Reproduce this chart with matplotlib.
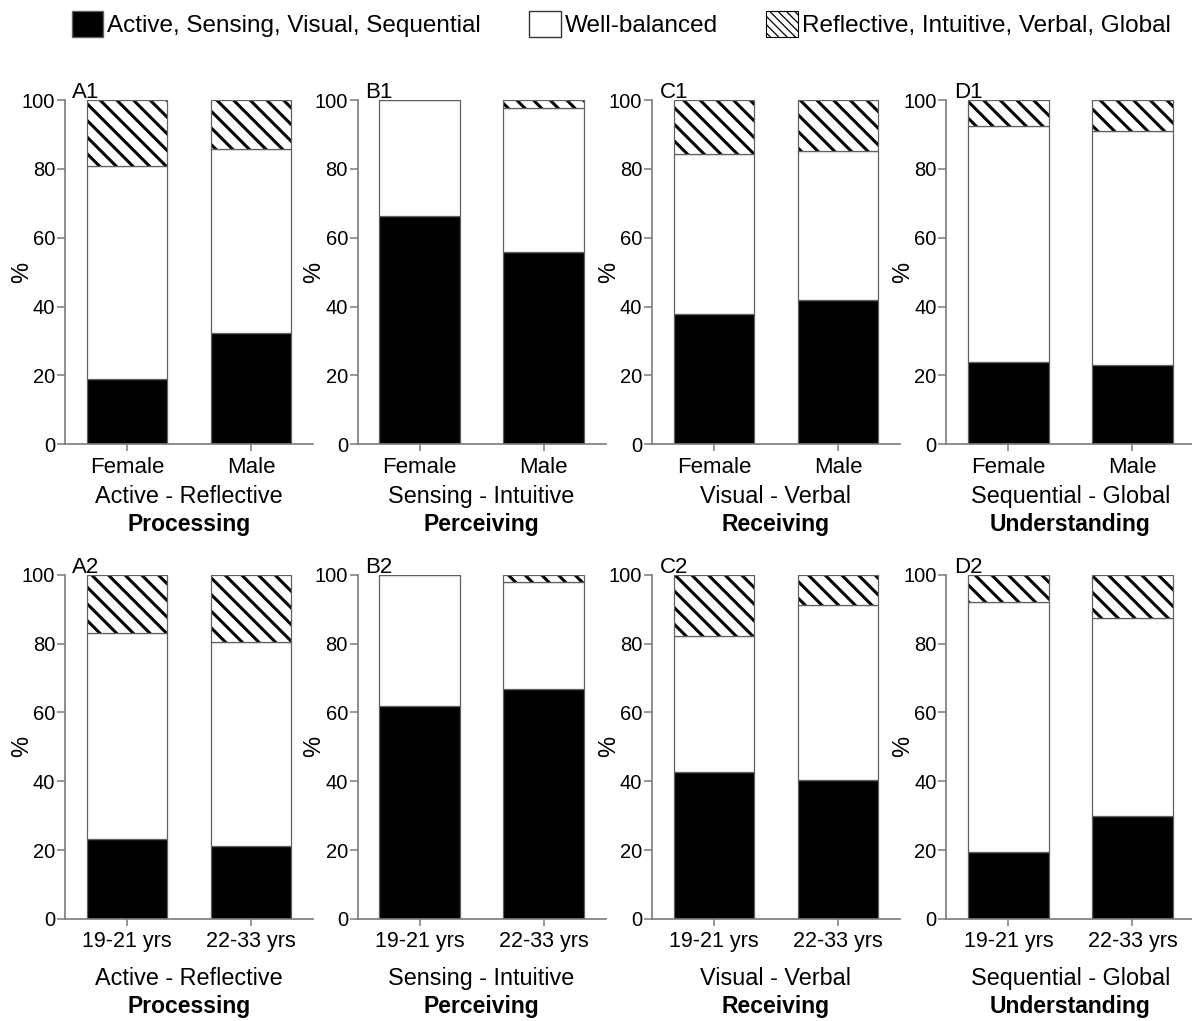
import numpy as np
import matplotlib.pyplot as plt
import matplotlib.patches as mpatches
from matplotlib.transforms import blended_transform_factory

plt.rcParams['font.family'] = ['Liberation Sans', 'DejaVu Sans']
plt.rcParams['hatch.linewidth'] = 2.2

# learning style dimensions (one column of panels each)
dims = ['Active - Reflective', 'Sensing - Intuitive', 'Visual - Verbal', 'Sequential - Global']
groups = ['Processing', 'Perceiving', 'Receiving', 'Understanding']
letters = ['A', 'B', 'C', 'D']

sex_labels = ['Female', 'Male']
age_labels = ['19-21 yrs', '22-33 yrs']

# % of students: first pole (black), well-balanced (white), second pole (hatched)
sex_pole1 = [[18.8, 32.4], [66.3, 55.8], [37.9, 41.8], [23.9, 23.0]]
sex_bal = [[62.1, 53.3], [33.7, 41.8], [46.4, 43.4], [68.7, 67.9]]
sex_pole2 = [[19.1, 14.3], [0.0, 2.4], [15.7, 14.8], [7.4, 9.1]]

age_pole1 = [[23.2, 21.1], [62.0, 66.8], [42.6, 40.3], [19.4, 29.9]]
age_bal = [[59.9, 59.5], [38.0, 31.1], [39.7, 50.8], [72.8, 57.6]]
age_pole2 = [[16.9, 19.4], [0.0, 2.1], [17.7, 8.9], [7.8, 12.5]]

legend_labels = ['Active, Sensing, Visual, Sequential', 'Well-balanced',
                 'Reflective, Intuitive, Verbal, Global']

fig = plt.figure(figsize=(11.92, 10.21), dpi=100)

lefts = [0.0545, 0.300, 0.547, 0.794]
# bottom, labels, data, number, tick label size/pad, text offsets
rows = [(0.565, sex_labels, sex_pole1, sex_bal, sex_pole2, '1', 16, 4, (37.5, 58)),
        (0.100, age_labels, age_pole1, age_bal, age_pole2, '2', 15.5, 4, (43, 63))]

spine_c = '#7a7a7a'
edge_c = '#606060'
w = 0.65

for bottom, cats, p1, bal, p2, num, tsize, tpad, offs in rows:
    for j in range(4):
        ax = fig.add_axes([lefts[j], bottom, 0.208, 0.337])
        x = np.arange(len(cats))
        a = np.array(p1[j])
        b = np.array(bal[j])
        c = np.array(p2[j])

        ax.bar(x, a, w, color='black', edgecolor=edge_c, linewidth=0.9)
        ax.bar(x, b, w, bottom=a, color='white', edgecolor=edge_c, linewidth=0.9)
        ax.bar(x, c, w, bottom=a + b, color='white', edgecolor='black',
               hatch='\\\\', linewidth=0)
        ax.bar(x, c, w, bottom=a + b, fill=False, edgecolor=edge_c, linewidth=0.9)

        ax.set_xlim(-0.5, 1.5)
        ax.set_ylim(0, 100)
        ax.set_yticks([0, 20, 40, 60, 80, 100])
        ax.set_xticks(x)
        ax.set_xticklabels(cats)
        ax.tick_params(axis='y', labelsize=14.5, length=6, width=1.1, color=spine_c, pad=1)
        ax.tick_params(axis='x', labelsize=tsize, length=5, width=1.1, color=spine_c, pad=tpad)
        for s in ['top', 'right']:
            ax.spines[s].set_visible(False)
        for s in ['left', 'bottom']:
            ax.spines[s].set_color(spine_c)
            ax.spines[s].set_linewidth(1.2)

        ax.set_ylabel('%', fontsize=17)
        ax.yaxis.set_label_coords(-0.13, 0.5)

        ax.text(0.03, 0.99, letters[j] + num, transform=ax.transAxes,
                fontsize=16, va='bottom', ha='left')

        tr = blended_transform_factory(ax.transData, ax.transAxes)
        ax.annotate(dims[j], xy=(0.5, 0), xycoords=tr, xytext=(0, -offs[0]),
                    textcoords='offset points', ha='center', va='center', fontsize=16.8)
        ax.annotate(groups[j], xy=(0.5, 0), xycoords=tr, xytext=(0, -offs[1]),
                    textcoords='offset points', ha='center', va='center',
                    fontsize=16.5, fontweight='bold')

handles = [mpatches.Patch(facecolor='black', edgecolor=edge_c),
           mpatches.Patch(facecolor='white', edgecolor='#333333', linewidth=1.0),
           mpatches.Patch(facecolor='white', edgecolor='black', hatch='\\\\\\\\', linewidth=0.8)]
leg = fig.legend(handles, legend_labels, loc='center', bbox_to_anchor=(0.521, 0.9765), ncol=3,
                 frameon=False, fontsize=17.5, handlelength=1.3, handleheight=1.3,
                 handletextpad=0.15, columnspacing=2.0)
for p in leg.get_patches():
    if p.get_hatch():
        p.set_hatch_linewidth(0.9)

fig.savefig('out.png', dpi=100)
